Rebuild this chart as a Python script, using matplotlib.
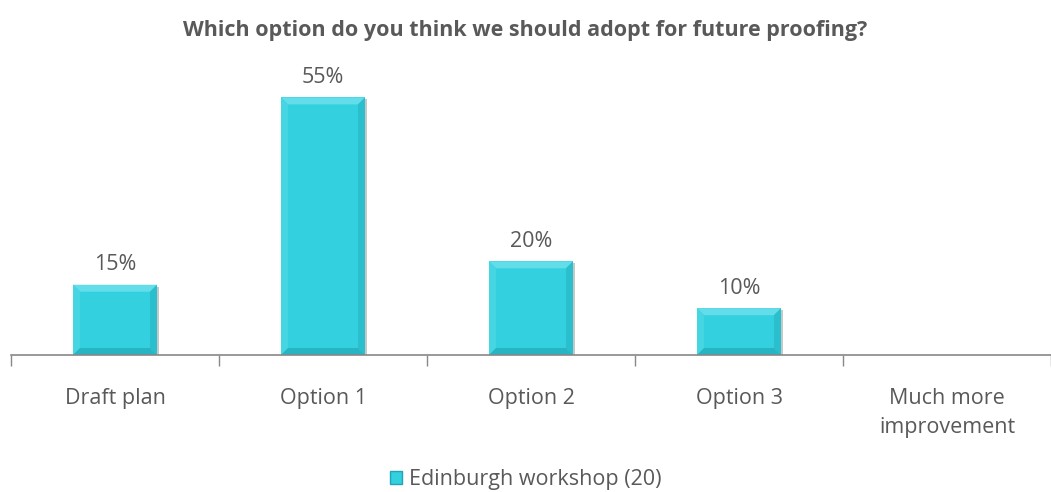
import matplotlib.pyplot as plt
from matplotlib.patches import Patch, Polygon

# данные
categories = ['Draft plan', 'Option 1', 'Option 2', 'Option 3', 'Much more\nimprovement']
values = [15, 55, 20, 10, None]
labels = ['15%', '55%', '20%', '10%', '']
series_name = 'Edinburgh workshop (20)'

bar_color = '#33D0DF'
text_color = '#595959'

plt.rcParams['font.family'] = ['Open Sans', 'DejaVu Sans']

fig = plt.figure(figsize=(10.51, 4.92), dpi=100)
ax = fig.add_axes([11 / 1051, 137 / 492, 1040 / 1051, 281 / 492])

xs = [i for i, v in enumerate(values) if v is not None]
hs = [v for v in values if v is not None]
bars = ax.bar(xs, hs, width=0.404, color=bar_color, edgecolor='none', zorder=3)

# эффект фаски на столбцах
bx, by = 0.034, 1.5  # размер фаски в единицах данных
for b in bars:
    x0, x1 = b.get_x(), b.get_x() + b.get_width()
    h = b.get_height()
    # тень
    ax.add_patch(Polygon([(x0 + 0.01, -0.3), (x1 + 0.01, -0.3), (x1 + 0.01, h - 0.4),
                          (x1, h - 0.4), (x1, 0)], closed=True,
                         facecolor='#c8c8c8', edgecolor='none', zorder=2))
    faces = [
        ([(x0, h), (x1, h), (x1 - bx, h - by), (x0 + bx, h - by)], '#62DDE9'),
        ([(x0, 0), (x0, h), (x0 + bx, h - by), (x0 + bx, by)], '#45D5E3'),
        ([(x1, 0), (x1, h), (x1 - bx, h - by), (x1 - bx, by)], '#2BBFCD'),
        ([(x0, 0), (x1, 0), (x1 - bx, by), (x0 + bx, by)], '#27B5C4'),
    ]
    for pts, col in faces:
        ax.add_patch(Polygon(pts, closed=True, facecolor=col, edgecolor='none', zorder=4))

# подписи значений
for x, h, lab in zip(xs, hs, labels):
    ax.text(x, h + 2.0, lab, ha='center', va='bottom', fontsize=15.5, color=text_color)

ax.set_xlim(-0.5, len(categories) - 0.5)
ax.set_ylim(0, 60)
ax.set_xticks(range(len(categories)))
ax.set_xticklabels(categories, fontsize=15.5, color=text_color, linespacing=1.5)
ax.tick_params(axis='x', length=0, pad=24)
ax.set_xticks([i - 0.5 for i in range(len(categories) + 1)], minor=True)
ax.tick_params(axis='x', which='minor', length=8, color='#888888', width=1)
ax.set_yticks([])
for side in ['top', 'right', 'left']:
    ax.spines[side].set_visible(False)
ax.spines['bottom'].set_color('#888888')
ax.spines['bottom'].set_linewidth(1.2)
ax.spines['bottom'].set_zorder(5)

fig.text(0.5, 0.939, 'Which option do you think we should adopt for future proofing?',
         ha='center', va='center', fontsize=15.5, fontweight='bold', color=text_color)

handle = Patch(facecolor=bar_color, edgecolor='#1FA5B3')
fig.legend([handle], [series_name], loc='center', bbox_to_anchor=(0.5, 0.025),
           frameon=False, fontsize=15.5, labelcolor=text_color,
           handlelength=0.6, handleheight=0.6, handletextpad=0.3)

fig.savefig('out.png', dpi=100)
